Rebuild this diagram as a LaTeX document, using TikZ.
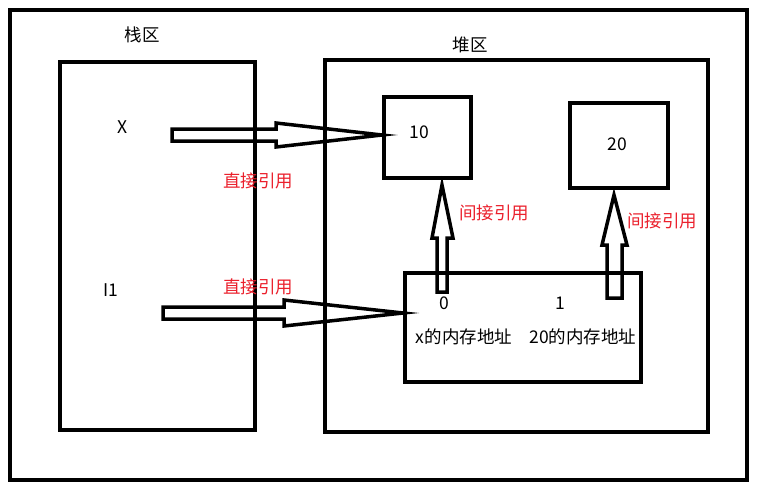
\documentclass[tikz,border=0pt]{standalone}
\usepackage{fontspec}
\setmainfont{Noto Sans CJK SC}
\definecolor{lbred}{RGB}{235,32,44}
\begin{document}
\begin{tikzpicture}[x=1pt,y=-1pt,
  box/.style={draw=black,line width=4pt},
  harrow/.style={draw=black,line width=3.5pt,line join=miter},
  txt/.style={font=\fontsize{17.5}{19}\selectfont,inner sep=0pt},
  rtxt/.style={txt,text=lbred}]
\useasboundingbox (0,0) rectangle (758,490);
\fill[white] (0,0) rectangle (758,490);
\draw[box] (10,10) rectangle (747,480);
\draw[box] (60,62) rectangle (255,430);
\draw[box] (325,60) rectangle (708,432);
\node[box,minimum width=87pt,minimum height=81pt,inner sep=0pt] (b10) at (427.5,137.5) {};
\node[box,minimum width=98pt,minimum height=85pt,inner sep=0pt] (b20) at (619,145.5) {};
\node[box,minimum width=236pt,minimum height=109pt,inner sep=0pt] (mem) at (523,327.5) {};
% arrows
\draw[harrow] (172,129) -- (276,129) -- (276,123) -- (b10.west |- 0,135) -- (276,147) -- (276,141) -- (172,141) -- cycle;
\draw[harrow] (163,307) -- (284,307) -- (284,300) -- (mem.west |- 0,313) -- (284,326) -- (284,319) -- (163,319) -- cycle;
\draw[harrow] (437,292) -- (437,238) -- (432,238) -- (442,185) -- (453,238) -- (447,238) -- (447,292) -- cycle;
\draw[harrow] (607,298) -- (607,245) -- (602,245) -- (614,195) -- (627,245) -- (622,245) -- (622,298) -- cycle;
% texts
\node[txt] (t1) at (142,35) {栈区};
\node[txt] (t2) at (470,45) {堆区};
\node[txt] (tx) at (123,127) {X};
\node[txt] (tl) at (111,290) {I1};
\node[txt] (t10) at (419,132) {10};
\node[txt] (t20) at (617,144) {20};
\node[rtxt] (r1) at (258,181) {直接引用};
\node[rtxt] (r2) at (258,287) {直接引用};
\node[rtxt] (r3) at (494,213) {间接引用};
\node[rtxt] (r4) at (662,221) {间接引用};
\node[txt] (z0) at (444,303) {0};
\node[txt] (z1) at (560,303) {1};
\node[txt] (a0) at (464,337) {x的内存地址};
\node[txt] (a1) at (583,337) {20的内存地址};
\end{tikzpicture}
\end{document}
